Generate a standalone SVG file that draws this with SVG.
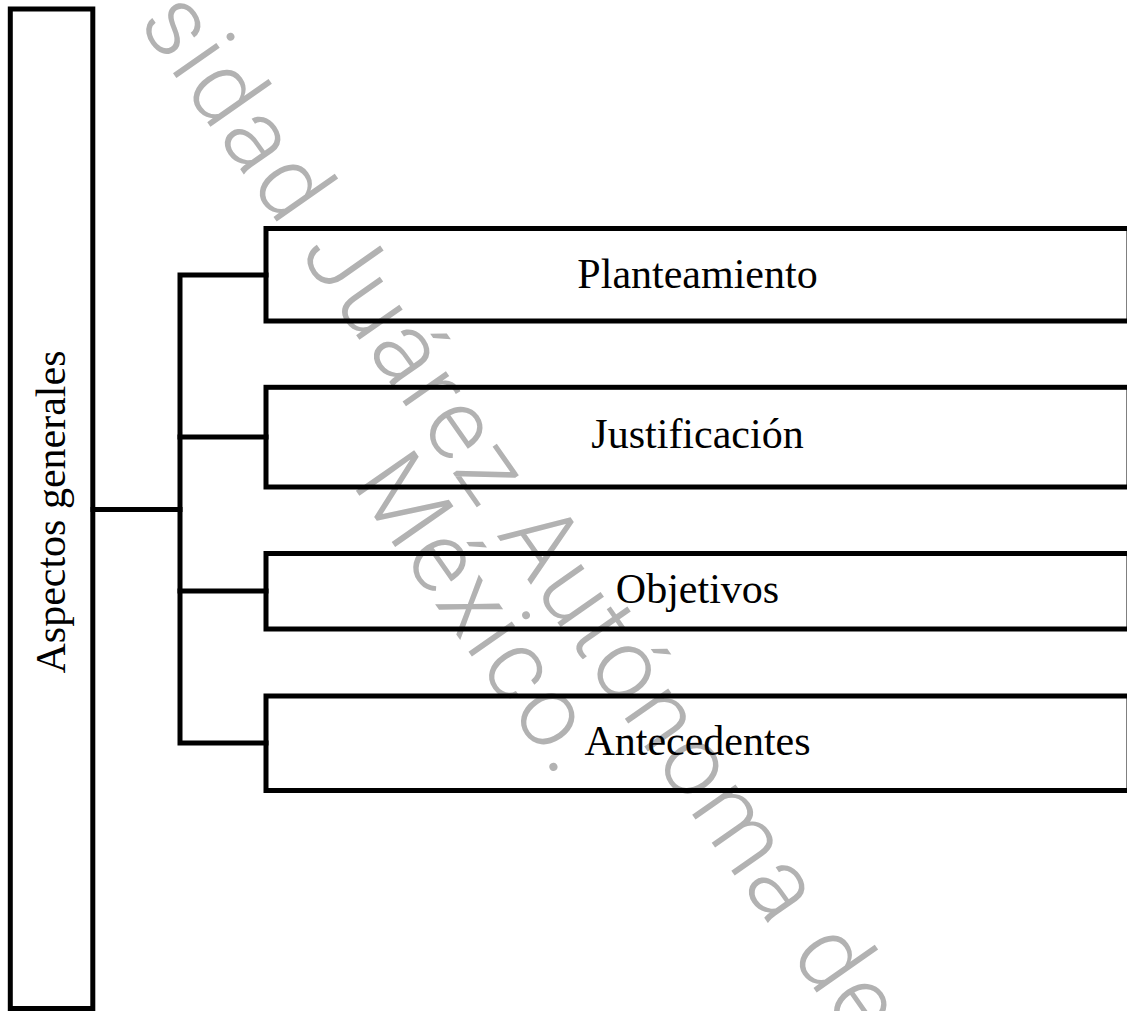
<svg xmlns="http://www.w3.org/2000/svg" width="1127" height="1011" viewBox="0 0 1127 1011">
  <style>
    .box { fill: none; stroke: #000; stroke-width: 5; stroke-linejoin: miter; }
    .wire { fill: none; stroke: #000; stroke-width: 5; stroke-linejoin: miter; stroke-linecap: square; }
    .label { font-family: "Liberation Serif", "Times New Roman", serif; font-size: 42px; fill: #000; }
    .mark { font-family: Roboto, "Open Sans", "DejaVu Sans", sans-serif; font-weight: 300; font-size: 100px; fill: #b2b2b2; }
  </style>

  <rect width="1127" height="1011" fill="#fff"/>

  <!-- diagonal watermark behind the chart -->
  <g id="watermark">
    <text class="mark" transform="translate(137.3 22.4) rotate(55)" textLength="1247" lengthAdjust="spacing">sidad Juárez Autónoma de</text>
    <text class="mark" transform="translate(350.7 483.6) rotate(55)" textLength="361" lengthAdjust="spacing">México.</text>
  </g>

  <!-- tree connectors -->
  <g id="connectors">
    <path class="wire" d="M93 509.5 H180"/>
    <path class="wire" d="M266 275 H180 V743 H266"/>
    <path class="wire" d="M180 437 H266"/>
    <path class="wire" d="M180 591 H266"/>
  </g>

  <g id="root">
    <rect class="box" x="10.3" y="9" width="82.5" height="999.5"/>
    <text class="label" transform="translate(65 512) rotate(-90)" text-anchor="middle">Aspectos generales</text>
  </g>

  <g id="planteamiento">
    <rect class="box" x="266" y="228.5" width="863" height="92.5"/>
    <text class="label" x="697.5" y="288" text-anchor="middle">Planteamiento</text>
  </g>

  <g id="justificacion">
    <rect class="box" x="266" y="387.3" width="863" height="99.7"/>
    <text class="label" x="697.5" y="448" text-anchor="middle">Justificación</text>
  </g>

  <g id="objetivos">
    <rect class="box" x="266" y="553.5" width="863" height="75.5"/>
    <text class="label" x="697.5" y="603" text-anchor="middle">Objetivos</text>
  </g>

  <g id="antecedentes">
    <rect class="box" x="266" y="696" width="863" height="94.5"/>
    <text class="label" x="697.5" y="755" text-anchor="middle">Antecedentes</text>
  </g>
</svg>
